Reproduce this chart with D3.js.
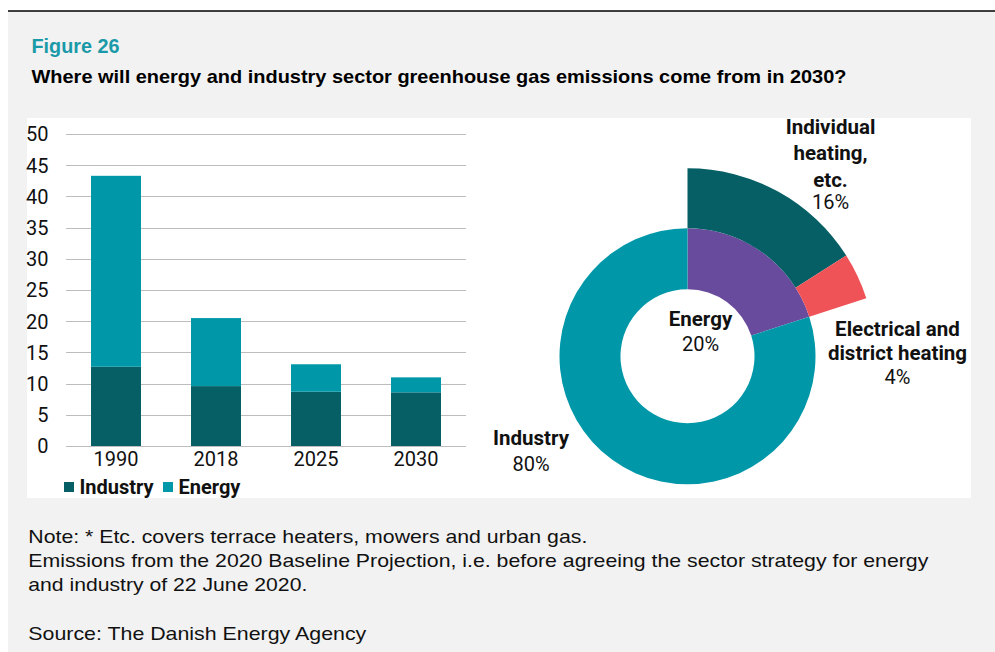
<!DOCTYPE html>
<html>
<head>
<meta charset="utf-8">
<script src="https://cdn.jsdelivr.net/npm/d3@7"></script>
<style>
  html, body { margin: 0; padding: 0; background: #ffffff; }
  svg { display: block; }
</style>
</head>
<body>
<svg id="chart" width="995" height="652"></svg>
<script>
// ---- Data ----
const years = ["1990", "2018", "2025", "2030"];
const industryValues = [12.7, 9.6, 8.7, 8.6];
const energyValues = [30.6, 10.9, 4.4, 2.4];
const yTicks = [0, 5, 10, 15, 20, 25, 30, 35, 40, 45, 50];
const seriesNames = ["Industry", "Energy"];

const pieInnerNames = ["Energy", "Industry"];
const pieInnerValues = [20, 80];
const pieOuterNames = ["Individual heating, etc.", "Electrical and district heating"];
const pieOuterValues = [16, 4];

const figureLabel = "Figure 26";
const titleText = "Where will energy and industry sector greenhouse gas emissions come from in 2030?";
const noteLines = [
  "Note: * Etc. covers terrace heaters, mowers and urban gas.",
  "Emissions from the 2020 Baseline Projection, i.e. before agreeing the sector strategy for energy",
  "and industry of 22 June 2020."
];
const sourceText = "Source: The Danish Energy Agency";

// ---- Styles ----
const C_IND = "#075f66";
const C_EN = "#0098a8";
const C_PURPLE = "#694b9e";
const C_RED = "#ef5357";
const FONT = "Roboto, 'Noto Sans', sans-serif";
const FONT_T = "'Liberation Sans', Arial, sans-serif";

const svg = d3.select("#chart");

// stretch a text line to a target width
function fitWidth(sel, target) {
  sel.attr("textLength", target).attr("lengthAdjust", "spacingAndGlyphs");
}

// background
svg.append("rect").attr("x", 0).attr("y", 0).attr("width", 995).attr("height", 652).attr("fill", "#ffffff");
svg.append("rect").attr("x", 8).attr("y", 11).attr("width", 987).attr("height", 641).attr("fill", "#f2f2f2");
svg.append("line").attr("x1", 8).attr("x2", 995).attr("y1", 11).attr("y2", 11)
  .attr("stroke", "#000").attr("stroke-width", 1.5);

// titles
const fig = svg.append("text").attr("x", 31.5).attr("y", 53).text(figureLabel)
  .attr("font-family", FONT_T).attr("font-weight", "bold").attr("font-size", 19.5).attr("fill", "#1a9aa8");
fitWidth(fig, 88);
const ttl = svg.append("text").attr("x", 31.5).attr("y", 83).text(titleText)
  .attr("font-family", FONT_T).attr("font-weight", "bold").attr("font-size", 18.6).attr("fill", "#000");
fitWidth(ttl, 815);

// white panel
svg.append("rect").attr("x", 27).attr("y", 118).attr("width", 944).attr("height", 380).attr("fill", "#ffffff");

// ---- Bar chart ----
const x = d3.scaleBand().domain(years).range([66, 466]).paddingInner(0.5).paddingOuter(0.25);
const y = d3.scaleLinear().domain([0, 50]).range([446, 134]);

const grid = svg.append("g");
grid.selectAll("line").data(yTicks).join("line")
  .attr("x1", 66).attr("x2", 466)
  .attr("y1", d => Math.round(y(d)) + 0.5).attr("y2", d => Math.round(y(d)) + 0.5)
  .attr("stroke", "#bdbdbd").attr("stroke-width", 1.2);

const yAxis = d3.axisLeft(y).tickValues(yTicks).tickSize(0).tickPadding(0);
const yg = svg.append("g").attr("transform", "translate(48.5,0)").call(yAxis);
yg.select(".domain").remove();
yg.selectAll("text").attr("font-family", FONT).attr("font-size", 20).attr("fill", "#111").attr("dy", "0.34em");

const stackData = years.map((yr, i) => ({ year: yr, Industry: industryValues[i], Energy: energyValues[i] }));
const stacked = d3.stack().keys(seriesNames)(stackData);
const colors = { Industry: C_IND, Energy: C_EN };

svg.append("g").selectAll("g").data(stacked).join("g")
  .attr("fill", d => colors[d.key])
  .selectAll("rect").data(d => d).join("rect")
  .attr("x", d => x(d.data.year))
  .attr("width", x.bandwidth())
  .attr("y", d => y(d[1]))
  .attr("height", d => y(d[0]) - y(d[1]));

const xAxis = d3.axisBottom(x).tickSize(0).tickPadding(0);
const xg = svg.append("g").attr("transform", "translate(0,451.5)").call(xAxis);
xg.select(".domain").remove();
xg.selectAll("text").attr("font-family", FONT).attr("font-size", 20).attr("fill", "#111").attr("dy", "0.71em");

// legend
const legendX = [64, 163];
const lg = svg.append("g").selectAll("g").data(seriesNames).join("g")
  .attr("transform", (d, i) => `translate(${legendX[i]},482)`);
lg.append("rect").attr("width", 10).attr("height", 10).attr("fill", d => colors[d]);
lg.append("text").attr("x", 15.5).attr("y", 11.5).text(d => d)
  .attr("font-family", FONT).attr("font-weight", "bold").attr("font-size", 20).attr("fill", "#111");

// ---- Donut ----
const cx = 687.5, cy = 356.3;
const rIn = 67, rMid = 128, rOut = 188;
const pg = svg.append("g").attr("transform", `translate(${cx},${cy})`);

const pieInner = d3.pie().sort(null).value(d => d)(pieInnerValues);
const arcInner = d3.arc().innerRadius(rIn).outerRadius(rMid);
const innerColors = [C_PURPLE, C_EN];
pg.selectAll("path.inner").data(pieInner).join("path").attr("class", "inner")
  .attr("d", arcInner).attr("fill", (d, i) => innerColors[i]);

const outerTotal = d3.sum(pieOuterValues);
const pieOuter = d3.pie().sort(null).value(d => d)
  .startAngle(0).endAngle(2 * Math.PI * outerTotal / d3.sum(pieInnerValues))(pieOuterValues);
const arcOuter = d3.arc().innerRadius(rMid).outerRadius(rOut);
const outerColors = [C_IND, C_RED];
pg.selectAll("path.outer").data(pieOuter).join("path").attr("class", "outer")
  .attr("d", arcOuter).attr("fill", (d, i) => outerColors[i]);

// labels
function label(xc, lines) {
  const t = svg.append("text").attr("text-anchor", "middle")
    .attr("font-family", FONT).attr("fill", "#111");
  lines.forEach(l => {
    t.append("tspan").attr("x", xc).attr("y", l.y)
      .attr("font-size", l.b ? 20.5 : 20)
      .attr("font-weight", l.b ? "bold" : "normal").text(l.t);
  });
}
label(830.5, [
  { t: "Individual", y: 134, b: true },
  { t: "heating,", y: 160, b: true },
  { t: "etc.", y: 187, b: true },
  { t: pieOuterValues[0] + "%", y: 209, b: false }
]);
label(897.5, [
  { t: "Electrical and", y: 335.5, b: true },
  { t: "district heating", y: 360, b: true },
  { t: pieOuterValues[1] + "%", y: 384, b: false }
]);
label(700.5, [
  { t: pieInnerNames[0], y: 326, b: true },
  { t: pieInnerValues[0] + "%", y: 350.5, b: false }
]);
label(531, [
  { t: pieInnerNames[1], y: 445, b: true },
  { t: pieInnerValues[1] + "%", y: 470.5, b: false }
]);

// ---- Notes ----
const noteTargets = [559, 900, 279];
noteLines.forEach((l, i) => {
  const t = svg.append("text").attr("x", 28.3).attr("y", 542.5 + i * 24.4).text(l)
    .attr("font-family", FONT_T).attr("font-size", 19).attr("fill", "#111");
  fitWidth(t, noteTargets[i]);
});
const src = svg.append("text").attr("x", 28.3).attr("y", 640).text(sourceText)
  .attr("font-family", FONT_T).attr("font-size", 19).attr("fill", "#111");
fitWidth(src, 338);
</script>
</body>
</html>
